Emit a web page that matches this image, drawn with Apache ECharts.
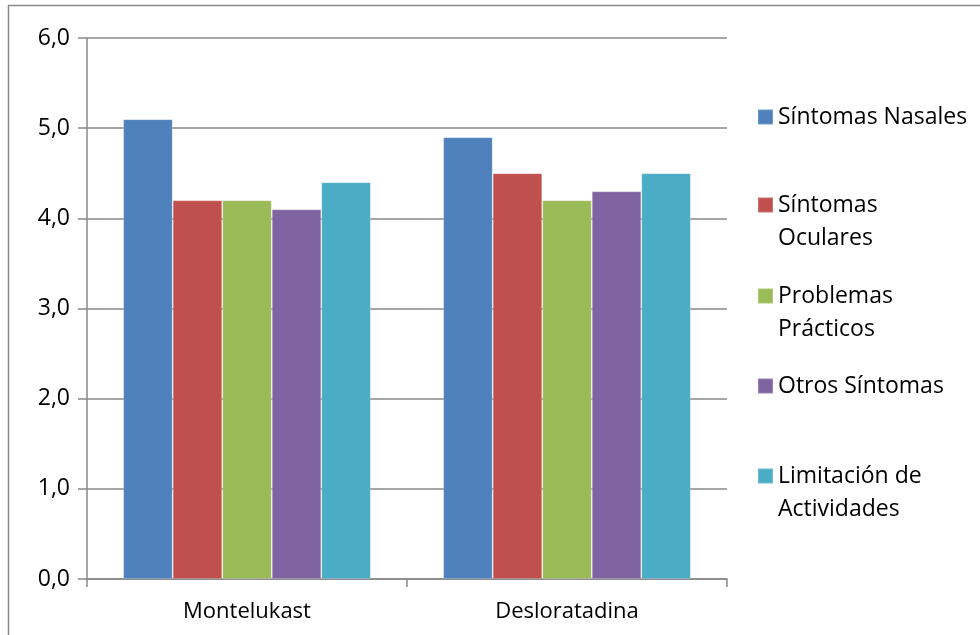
<!DOCTYPE html>
<html>
<head>
<meta charset="utf-8">
<script src="https://cdn.jsdelivr.net/npm/echarts@6/dist/echarts.min.js"></script>
<style>
  html,body{margin:0;padding:0;background:#fff;}
  #chart{width:980px;height:635px;}
</style>
</head>
<body>
<div id="chart"></div>
<script>
var categories = ["Montelukast", "Desloratadina"];
var seriesNames = ["Síntomas Nasales", "Síntomas Oculares", "Problemas Prácticos", "Otros Síntomas", "Limitación de Actividades"];
var legendLabels = ["Síntomas Nasales", "Síntomas\nOculares", "Problemas\nPrácticos", "Otros Síntomas", "Limitación de\nActividades"];
var nasales = [5.1, 4.9];
var oculares = [4.2, 4.5];
var practicos = [4.2, 4.2];
var otros = [4.1, 4.3];
var limitacion = [4.4, 4.5];
var colors = ["#4F81BD", "#C0504D", "#9BBB59", "#8064A2", "#4BACC6"];
var yTicks = [0, 1, 2, 3, 4, 5, 6];

var FONT = "Open Sans";
var values = [nasales, oculares, practicos, otros, limitacion];

//posiciones del centro del icono de cada leyenda
var legendCenters = [117, 205, 296, 386, 476];
var LH = 33;

var legends = [];
seriesNames.forEach(function(name, i){
	var lbl = legendLabels[i];
	var multi = lbl.indexOf("\n") >= 0;
	var text = multi ? "\n" + lbl : lbl;
	legends.push({
		data: [name],
		orient: "vertical",
		left: 757,
		top: legendCenters[i] - (multi ? LH * 1.5 : LH / 2),
		icon: "rect",
		itemWidth: 15,
		itemHeight: 15,
		padding: 0,
		selectedMode: false,
		formatter: function(){ return text; },
		textStyle: {fontFamily: FONT, fontSize: 23, color: "#000", lineHeight: LH}
	});
});

var series = seriesNames.map(function(name, i){
	return {
		name: name,
		type: "bar",
		data: values[i],
		barGap: "0%",
		barCategoryGap: "22.6%",
		itemStyle: {color: colors[i], borderColor: "rgba(255,255,255,0.2)", borderWidth: 1},
		emphasis: {disabled: true}
	};
});

var chart = echarts.init(document.getElementById("chart"));
chart.setOption({
	animation: false,
	color: colors,
	grid: {left: 87, right: 253, top: 38, bottom: 56, containLabel: false},
	legend: legends,
	graphic: [{
		type: "rect",
		shape: {x: 8.5, y: 5.5, width: 1200, height: 1000},
		style: {fill: null, stroke: "#8a8a8a", lineWidth: 1.5},
		silent: true
	}],
	xAxis: {
		type: "category",
		data: categories,
		axisLine: {lineStyle: {color: "#888", width: 1.5}},
		axisTick: {show: true, length: 8, lineStyle: {color: "#888", width: 1.5}},
		axisLabel: {fontFamily: FONT, fontSize: 22, color: "#000", margin: 22}
	},
	yAxis: {
		type: "value",
		min: yTicks[0],
		max: yTicks[yTicks.length - 1],
		interval: 1,
		axisLine: {show: true, lineStyle: {color: "#888", width: 1.5}},
		axisTick: {show: true, length: 9, lineStyle: {color: "#888", width: 1.5}},
		splitLine: {lineStyle: {color: "#888", width: 1.5}},
		axisLabel: {
			fontFamily: FONT, fontSize: 23, color: "#000", margin: 17,
			formatter: function(v){ return v.toFixed(1).replace(".", ","); }
		}
	},
	series: series
});
</script>
</body>
</html>
